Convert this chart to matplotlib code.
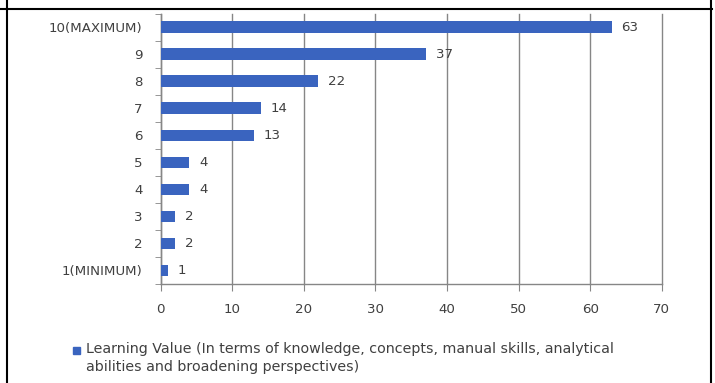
import matplotlib
matplotlib.use("Agg")
import matplotlib.pyplot as plt
from matplotlib.patches import Rectangle
from matplotlib.lines import Line2D
from matplotlib.ticker import FixedLocator

# data
categorias = ['1(MINIMUM)', '2', '3', '4', '5', '6', '7', '8', '9', '10(MAXIMUM)']
valores = [1, 2, 2, 4, 4, 13, 14, 22, 37, 63]
xticks = [0, 10, 20, 30, 40, 50, 60, 70]
leyenda = ['Learning Value (In terms of knowledge, concepts, manual skills, analytical',
           'abilities and broadening perspectives)']

plt.rcParams['font.family'] = ['DejaVu Sans']

W, H = 715, 383
fig = plt.figure(figsize=(W / 100, H / 100), dpi=100)
fig.patch.set_facecolor('white')

# area del grafico en pixeles
x0, x1 = 160.7, 661.7
y_top, y_bot = 13.5, 284.0
ax = fig.add_axes([x0 / W, 1 - y_bot / H, (x1 - x0) / W, (y_bot - y_top) / H])

azul = '#3a64bf'
gris = '#868686'
texto = '#404040'
fs = 9.6

pos = list(range(len(categorias)))
ax.barh(pos, valores, height=0.42, color=azul, zorder=3)
for p, v in zip(pos, valores):
    ax.text(v + 1.4, p, str(v), va='center', ha='left', fontsize=fs, color=texto)

ax.set_xlim(0, 70)
ax.set_ylim(-0.5, len(categorias) - 0.5)
ax.set_xticks(xticks)
ax.set_xticklabels([str(t) for t in xticks], fontsize=fs, color=texto)
ax.set_yticks(pos)
ax.set_yticklabels(categorias, fontsize=fs, color=texto)
ax.tick_params(axis='y', length=0, pad=13)
# marcas entre categorias (estilo Excel)
ax.yaxis.set_minor_locator(FixedLocator([i - 0.5 for i in range(len(categorias) + 1)]))
ax.tick_params(axis='y', which='minor', length=4, color=gris, direction='out')
ax.tick_params(axis='x', length=5, color=gris, direction='out', pad=9)

ax.grid(axis='x', color=gris, linewidth=1, zorder=0)
for gl in ax.get_xgridlines():
    gl.set_clip_on(False)
ax.set_axisbelow(True)
for s in ['top', 'right']:
    ax.spines[s].set_visible(False)
for s in ['left', 'bottom']:
    ax.spines[s].set_color(gris)
    ax.spines[s].set_linewidth(1)

# leyenda manual
fig.patches.append(Rectangle((73 / W, 1 - 354 / H), 7 / W, 7 / H,
                             transform=fig.transFigure, color=azul, figure=fig))
fig.text(86 / W, 1 - 349 / H, leyenda[0], fontsize=10.3, color=texto, va='center', ha='left')
fig.text(86 / W, 1 - 367 / H, leyenda[1], fontsize=10.3, color=texto, va='center', ha='left')

# bordes de la tabla
fig.lines.append(Line2D([0, 712 / W], [1 - 9 / H, 1 - 9 / H], transform=fig.transFigure,
                        color='black', linewidth=1.5))
fig.lines.append(Line2D([7 / W, 7 / W], [0, 1], transform=fig.transFigure,
                        color='black', linewidth=1.5))
fig.lines.append(Line2D([711 / W, 711 / W], [0, 1], transform=fig.transFigure,
                        color='black', linewidth=1.5))

fig.savefig('out.png', dpi=100)
